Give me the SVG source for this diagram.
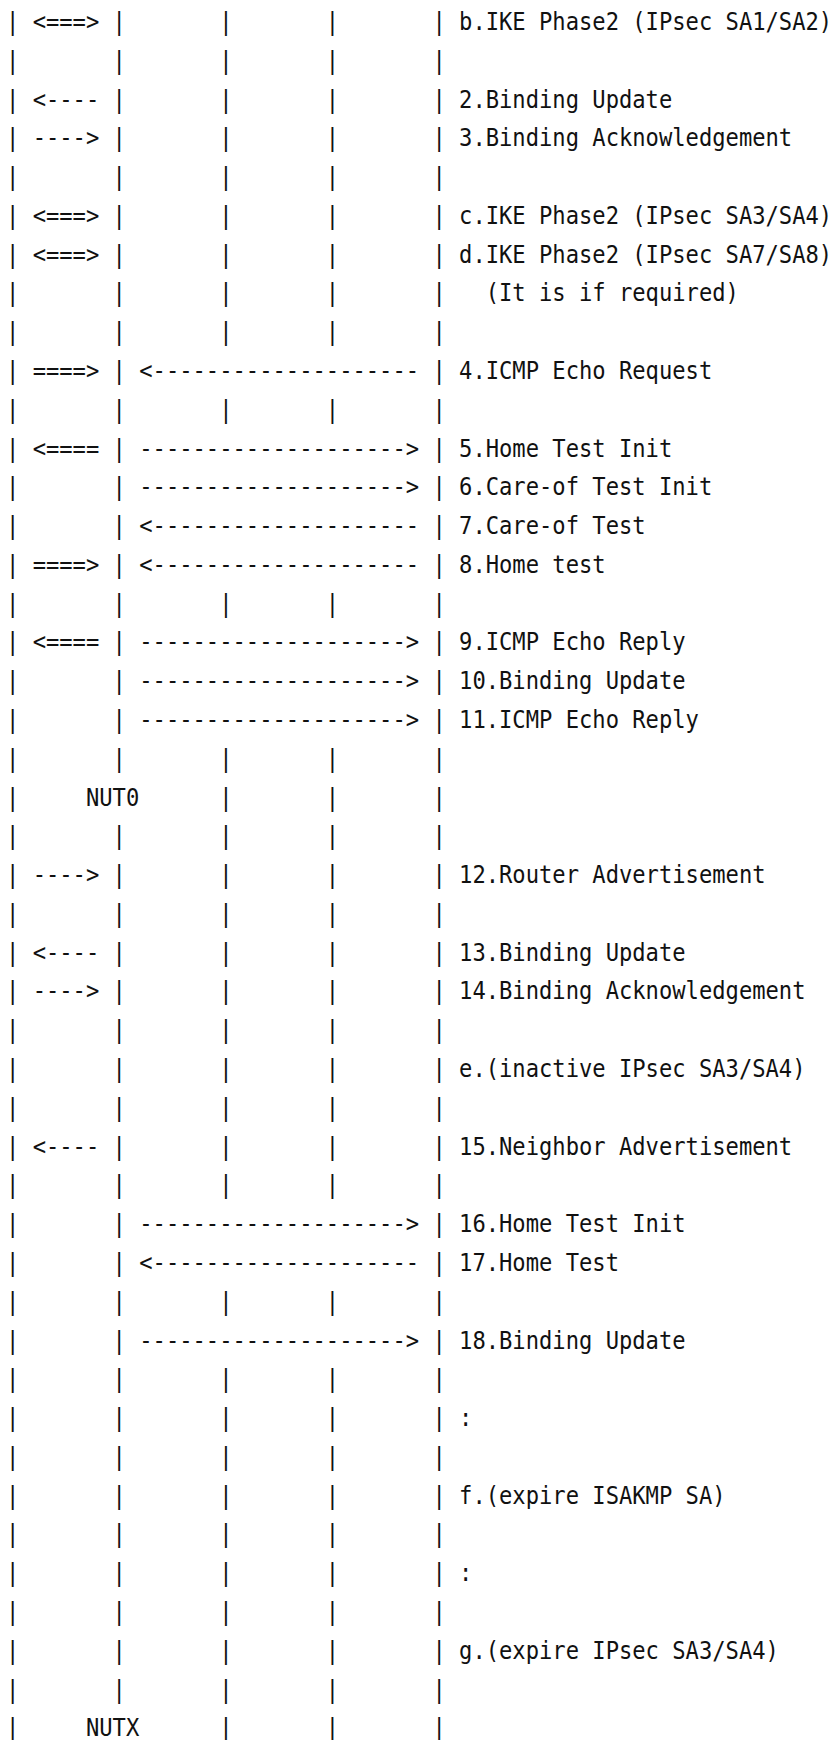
<svg xmlns="http://www.w3.org/2000/svg" width="833" height="1740" viewBox="0 0 833 1740" xml:space="preserve">
<style>
text{font-family:"DejaVu Sans Mono","Liberation Mono",monospace;font-size:24px;fill:#111;white-space:pre}
</style>
<rect width="833" height="1740" fill="#fff"/>
<g id="diagram" transform="scale(0.92277,1)">
<text x="6.5" y="30">| &lt;===&gt; |       |       |       | b.IKE Phase2 (IPsec SA1/SA2)</text>
<text x="6.5" y="68.78">|       |       |       |       |</text>
<text x="6.5" y="107.56">| &lt;---- |       |       |       | 2.Binding Update</text>
<text x="6.5" y="146.34">| ----&gt; |       |       |       | 3.Binding Acknowledgement</text>
<text x="6.5" y="185.12">|       |       |       |       |</text>
<text x="6.5" y="223.9">| &lt;===&gt; |       |       |       | c.IKE Phase2 (IPsec SA3/SA4)</text>
<text x="6.5" y="262.68">| &lt;===&gt; |       |       |       | d.IKE Phase2 (IPsec SA7/SA8)</text>
<text x="6.5" y="301.46">|       |       |       |       |   (It is if required)</text>
<text x="6.5" y="340.24">|       |       |       |       |</text>
<text x="6.5" y="379.02">| ====&gt; | &lt;-------------------- | 4.ICMP Echo Request</text>
<text x="6.5" y="417.8">|       |       |       |       |</text>
<text x="6.5" y="456.58">| &lt;==== | --------------------&gt; | 5.Home Test Init</text>
<text x="6.5" y="495.36">|       | --------------------&gt; | 6.Care-of Test Init</text>
<text x="6.5" y="534.14">|       | &lt;-------------------- | 7.Care-of Test</text>
<text x="6.5" y="572.92">| ====&gt; | &lt;-------------------- | 8.Home test</text>
<text x="6.5" y="611.7">|       |       |       |       |</text>
<text x="6.5" y="650.48">| &lt;==== | --------------------&gt; | 9.ICMP Echo Reply</text>
<text x="6.5" y="689.26">|       | --------------------&gt; | 10.Binding Update</text>
<text x="6.5" y="728.04">|       | --------------------&gt; | 11.ICMP Echo Reply</text>
<text x="6.5" y="766.82">|       |       |       |       |</text>
<text x="6.5" y="805.6">|     NUT0      |       |       |</text>
<text x="6.5" y="844.38">|       |       |       |       |</text>
<text x="6.5" y="883.16">| ----&gt; |       |       |       | 12.Router Advertisement</text>
<text x="6.5" y="921.94">|       |       |       |       |</text>
<text x="6.5" y="960.72">| &lt;---- |       |       |       | 13.Binding Update</text>
<text x="6.5" y="999.5">| ----&gt; |       |       |       | 14.Binding Acknowledgement</text>
<text x="6.5" y="1038.28">|       |       |       |       |</text>
<text x="6.5" y="1077.06">|       |       |       |       | e.(inactive IPsec SA3/SA4)</text>
<text x="6.5" y="1115.84">|       |       |       |       |</text>
<text x="6.5" y="1154.62">| &lt;---- |       |       |       | 15.Neighbor Advertisement</text>
<text x="6.5" y="1193.4">|       |       |       |       |</text>
<text x="6.5" y="1232.18">|       | --------------------&gt; | 16.Home Test Init</text>
<text x="6.5" y="1270.96">|       | &lt;-------------------- | 17.Home Test</text>
<text x="6.5" y="1309.74">|       |       |       |       |</text>
<text x="6.5" y="1348.52">|       | --------------------&gt; | 18.Binding Update</text>
<text x="6.5" y="1387.3">|       |       |       |       |</text>
<text x="6.5" y="1426.08">|       |       |       |       | :</text>
<text x="6.5" y="1464.86">|       |       |       |       |</text>
<text x="6.5" y="1503.64">|       |       |       |       | f.(expire ISAKMP SA)</text>
<text x="6.5" y="1542.42">|       |       |       |       |</text>
<text x="6.5" y="1581.2">|       |       |       |       | :</text>
<text x="6.5" y="1619.98">|       |       |       |       |</text>
<text x="6.5" y="1658.76">|       |       |       |       | g.(expire IPsec SA3/SA4)</text>
<text x="6.5" y="1697.54">|       |       |       |       |</text>
<text x="6.5" y="1736.32">|     NUTX      |       |       |</text>
</g>
</svg>
